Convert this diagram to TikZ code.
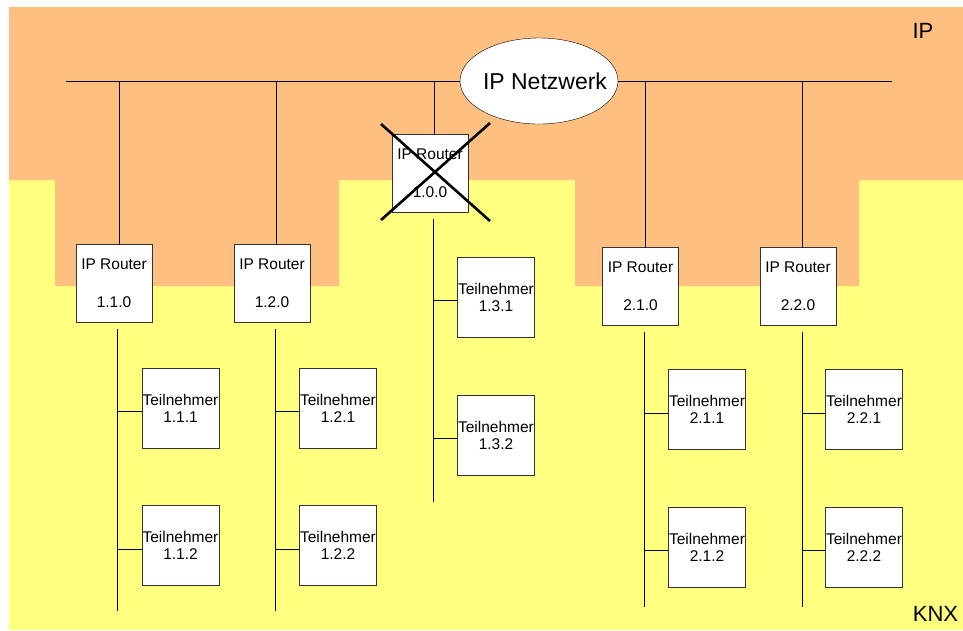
\documentclass[tikz,border=0pt]{standalone}
\usepackage{fontspec}
\setmainfont{Liberation Sans}
\usetikzlibrary{shapes.geometric, calc}
\definecolor{ipzone}{HTML}{FFBF80}
\definecolor{knxzone}{HTML}{FFFF80}

\begin{document}
\begin{tikzpicture}[x=1pt, y=-1pt,
  every node/.style={font=\fontsize{15.5}{17}\selectfont},
  router/.style={draw=black!80, fill=white, inner sep=0pt,
                 minimum width=76pt, minimum height=78pt, align=center},
  dev/.style={draw=black!80, fill=white, inner sep=0pt,
              minimum width=77pt, minimum height=80pt, align=center},
  cloud/.style={ellipse, draw, fill=white, inner sep=0pt,
                minimum width=158pt, minimum height=86pt,
                font=\fontsize{23}{27}\selectfont},
  zone/.style={inner sep=0pt, font=\fontsize{22}{26}\selectfont},
  wire/.style={line width=0.8pt},
  kill/.style={line width=2.6pt},
]
\useasboundingbox (0,0) rectangle (963,630);

% --- zones: KNX below, IP on top
\fill[knxzone] (9,180) rectangle (963,630);
\fill[ipzone] (9,7) -- (963,7) -- (963,180) -- (859,180) -- (859,286)
  -- (575,286) -- (575,180) -- (339,180) -- (339,286) -- (55,286)
  -- (55,180) -- (9,180) -- cycle;
\node[zone] (lip)  at (923,31)    {IP};
\node[zone] (lknx) at (935.5,614) {KNX};

% --- row 0: IP backbone
\node[cloud] (net) at (539,81) {\makebox[0pt]{\hspace{12pt}IP Netzwerk}};
\coordinate (busL) at (66,81);
\coordinate (busR) at (892,81);
\draw[wire] (busL) -- (net.west);
\draw[wire] (net.east) -- (busR);

% --- row 1: routers
\node[router] (r10) at (430,173.5) {IP Router\\[21pt]1.0.0};
\node[router] (r11) at (114,283)   {IP Router\\[21pt]1.1.0};
\node[router] (r12) at (272,283)   {IP Router\\[21pt]1.2.0};
\node[router] (r21) at (640.5,286.5) {IP Router\\[21pt]2.1.0};
\node[router] (r22) at (798,286.5)   {IP Router\\[21pt]2.2.0};
\coordinate (d10) at (434,81);
\coordinate (d11) at (119,81);
\coordinate (d12) at (276.5,81);
\coordinate (d21) at (645,81);
\coordinate (d22) at (802.7,81);
\draw[wire] (d10) -- (d10 |- r10.north);
\draw[wire] (d11) -- (d11 |- r11.north);
\draw[wire] (d12) -- (d12 |- r12.north);
\draw[wire] (d21) -- (d21 |- r21.north);
\draw[wire] (d22) -- (d22 |- r22.north);

% router 1.0.0 is out of service
\draw[kill] (381,124) -- (490,221) (490,123) -- (381,220);

% --- row 2: KNX lines
\coordinate (v10) at (433.7,219); \coordinate (v10e) at (433.7,502);
\coordinate (v11) at (117.7,329); \coordinate (v11e) at (117.7,611);
\coordinate (v12) at (275.7,329); \coordinate (v12e) at (275.7,611);
\coordinate (v21) at (644.7,332); \coordinate (v21e) at (644.7,607);
\coordinate (v22) at (802.7,332); \coordinate (v22e) at (802.7,607);
\draw[wire] (v10) -- (v10e);
\draw[wire] (v11) -- (v11e);
\draw[wire] (v12) -- (v12e);
\draw[wire] (v21) -- (v21e);
\draw[wire] (v22) -- (v22e);

% --- row 3: devices
\node[dev] (t131) at (496,297)     {Teilnehmer\\1.3.1};
\node[dev] (t132) at (496,435)     {Teilnehmer\\1.3.2};
\node[dev] (t111) at (180.5,408)   {Teilnehmer\\1.1.1};
\node[dev] (t112) at (180.5,545.5) {Teilnehmer\\1.1.2};
\node[dev] (t121) at (338,408)     {Teilnehmer\\1.2.1};
\node[dev] (t122) at (338,545.5)   {Teilnehmer\\1.2.2};
\node[dev] (t211) at (707,409.5)   {Teilnehmer\\2.1.1};
\node[dev] (t212) at (707,547)     {Teilnehmer\\2.1.2};
\node[dev] (t221) at (864,409.5)   {Teilnehmer\\2.2.1};
\node[dev] (t222) at (864,547)     {Teilnehmer\\2.2.2};
\foreach \t/\v in {t131/v10, t132/v10, t111/v11, t112/v11, t121/v12,
                   t122/v12, t211/v21, t212/v21, t221/v22, t222/v22}
  \draw[wire] ([yshift=-3.5pt]\t.west) -- ([yshift=-3.5pt]\t.west -| \v);
\end{tikzpicture}
\end{document}
